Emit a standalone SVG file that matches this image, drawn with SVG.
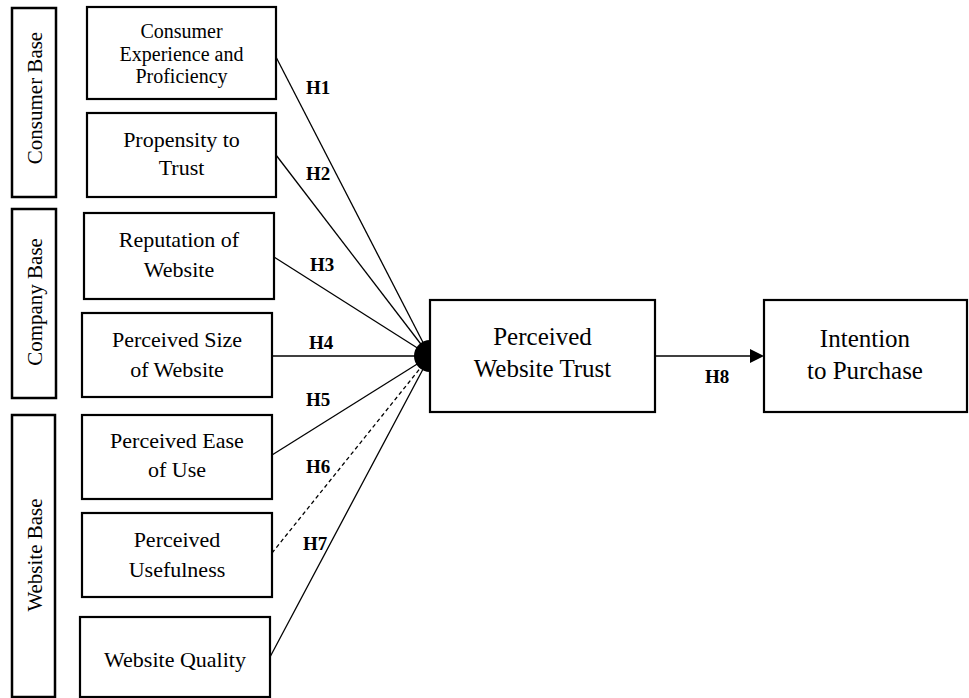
<svg xmlns="http://www.w3.org/2000/svg" width="969" height="698" viewBox="0 0 969 698">
<style>
.box{fill:#fff;stroke:#000;stroke-width:2.2}
.side{fill:#fff;stroke:#000;stroke-width:2.5}
.t{font-family:"Liberation Serif","Times New Roman",serif;fill:#000;text-anchor:middle}
.n{font-size:22px}
.s{font-size:20px}
.r{font-size:21px}
.b{font-size:25px}
.h{font-family:"Liberation Serif","Times New Roman",serif;font-weight:bold;font-size:19px;fill:#000}
.ln{stroke:#000;stroke-width:1.3;fill:none}
.dash{stroke-dasharray:4 3}
</style>
<rect width="969" height="698" fill="#fff"/>
<g id="side-consumer">
<rect class="side" x="12" y="8" width="44" height="189"/>
<text class="t r" transform="translate(42,98) rotate(-90)">Consumer Base</text>
</g>
<g id="side-company">
<rect class="side" x="12" y="209" width="44" height="189"/>
<text class="t r" transform="translate(42,302) rotate(-90)">Company Base</text>
</g>
<g id="side-website">
<rect class="side" x="12" y="415" width="43" height="282"/>
<text class="t r" transform="translate(42,555) rotate(-90)">Website Base</text>
</g>
<g id="connectors">
<line class="ln" x1="276" y1="57" x2="430" y2="356"/>
<line class="ln" x1="276" y1="155" x2="430" y2="356"/>
<line class="ln" x1="274" y1="257" x2="430" y2="356"/>
<line class="ln" x1="272" y1="356" x2="430" y2="356"/>
<line class="ln" x1="272" y1="455" x2="430" y2="356"/>
<line class="ln dash" x1="272" y1="553" x2="430" y2="356"/>
<line class="ln" x1="270" y1="657" x2="430" y2="356"/>
<path d="M430,340 A16,16 0 0 0 430,372 Z" fill="#000"/>
<line class="ln" x1="655" y1="356" x2="751" y2="356"/>
<polygon points="750,349 764,356 750,363" fill="#000"/>
<text class="h" x="306" y="94">H1</text>
<text class="h" x="306" y="180">H2</text>
<text class="h" x="310" y="271">H3</text>
<text class="h" x="309" y="349">H4</text>
<text class="h" x="306" y="406">H5</text>
<text class="h" x="306" y="473">H6</text>
<text class="h" x="303" y="550">H7</text>
<text class="h" x="705" y="383">H8</text>
</g>
<g id="n-experience">
<rect class="box" x="87" y="7" width="189" height="92"/>
<text class="t s" x="181.5" y="38">Consumer</text>
<text class="t s" x="181.5" y="61">Experience and</text>
<text class="t s" x="181.5" y="83">Proficiency</text>
</g>
<g id="n-propensity">
<rect class="box" x="87" y="113" width="189" height="84"/>
<text class="t n" x="181.5" y="147">Propensity to</text>
<text class="t n" x="181.5" y="175">Trust</text>
</g>
<g id="n-reputation">
<rect class="box" x="84" y="213" width="190" height="86"/>
<text class="t n" x="179" y="247">Reputation of</text>
<text class="t n" x="179" y="277">Website</text>
</g>
<g id="n-size">
<rect class="box" x="82" y="313" width="190" height="84"/>
<text class="t n" x="177" y="347">Perceived Size</text>
<text class="t n" x="177" y="377">of Website</text>
</g>
<g id="n-ease">
<rect class="box" x="82" y="415" width="190" height="84"/>
<text class="t n" x="177" y="448">Perceived Ease</text>
<text class="t n" x="177" y="477">of Use</text>
</g>
<g id="n-usefulness">
<rect class="box" x="82" y="513" width="190" height="84"/>
<text class="t n" x="177" y="547">Perceived</text>
<text class="t n" x="177" y="577">Usefulness</text>
</g>
<g id="n-quality">
<rect class="box" x="80" y="617" width="190" height="80"/>
<text class="t n" x="175" y="667">Website Quality</text>
</g>
<g id="n-trust">
<rect class="box" x="430" y="300" width="225" height="112"/>
<text class="t b" x="542.5" y="345">Perceived</text>
<text class="t b" x="542.5" y="377">Website Trust</text>
</g>
<g id="n-intention">
<rect class="box" x="764" y="300" width="203" height="112"/>
<text class="t b" x="865" y="347">Intention</text>
<text class="t b" x="865" y="379">to Purchase</text>
</g>
</svg>
